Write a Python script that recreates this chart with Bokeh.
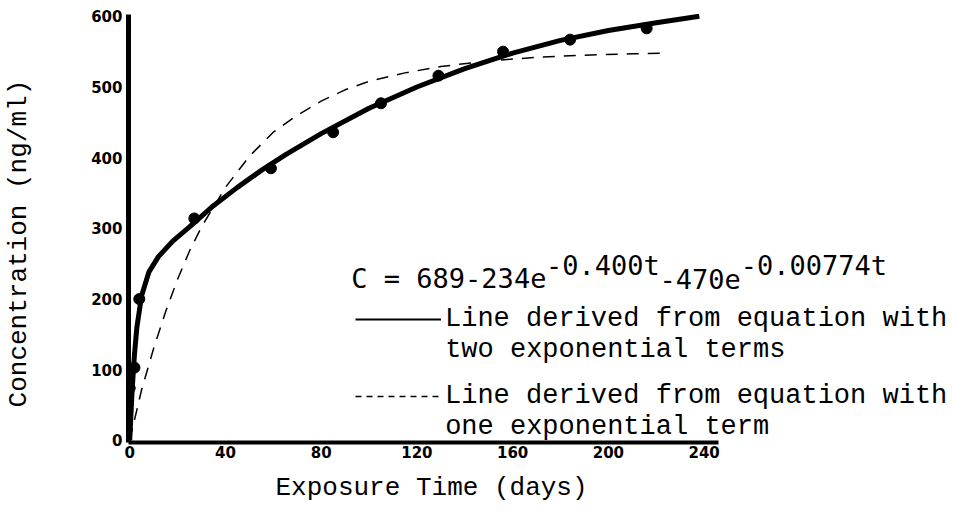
import math
from bokeh.plotting import figure
from bokeh.models import Range1d, FixedTicker, Label, Legend, LegendItem, LinearAxis, Title
from bokeh.embed import file_html
from bokeh.resources import INLINE

# ---- data ----
x_ticks = [0, 40, 80, 120, 160, 200, 240]
y_ticks = [0, 100, 200, 300, 400, 500, 600]

# line from equation with two exponential terms
solid_t = [0, 0.5, 1, 2, 3, 5, 8, 12, 18, 25, 35, 45, 55, 65, 80, 100, 120, 140, 160, 180, 200, 220, 238]
solid_v = [0, 35, 70, 122, 160, 205, 238, 260, 282, 302, 332, 358, 382, 404, 434, 470, 500, 526, 548, 566, 580, 591, 600]

# line from equation with one exponential term
dash_t = [0, 5, 10, 15, 20, 25, 30, 40, 50, 60, 70, 80, 90, 100, 115, 130, 150, 170, 190, 210, 225]
dash_v = [0, 72, 130, 182, 228, 268, 302, 358, 402, 436, 460, 480, 496, 508, 520, 529, 537, 542, 545, 547, 548]

# measured concentrations
pt_t = [0, 2, 4, 27, 59, 85, 105, 129, 156, 184, 216]
pt_v = [74, 103, 200, 314, 385, 436, 477, 516, 550, 567, 583]

eq_parts = ["C = 689-234e", "-0.400t", "-470e", "-0.00774t"]
legend_first = ["Line derived from equation with", "Line derived from equation with"]
legend_second = ["two exponential terms", "one exponential term"]
x_title = "Exposure Time (days)"
y_title = "Concentration (ng/ml)"

mono = "Liberation Mono"

# ---- figure ----
p = figure(width=953, height=515, output_backend="svg", toolbar_location=None,
           x_range=Range1d(-0.5, 344.2), y_range=Range1d(-3, 604),
           min_border_left=127, min_border_right=0, min_border_top=13, min_border_bottom=73)
p.outline_line_color = None
p.grid.visible = False
p.background_fill_color = "white"
p.border_fill_color = "white"
# off-screen range used only by the legend sample renderers
p.extra_y_ranges = {"legend_only": Range1d(100000, 100001)}

for ax, ticks, bounds, lw, so in ((p.xaxis, x_ticks, (-0.5, 246.2), 4, 3),
                                  (p.yaxis, y_ticks, (-3, 603), 5, 6)):
    ax.ticker = FixedTicker(ticks=ticks)
    ax.bounds = bounds
    ax.axis_line_width = lw
    ax.axis_line_color = "black"
    ax.major_tick_line_color = None
    ax.minor_tick_line_color = None
    ax.major_tick_out = 0
    ax.major_tick_in = 0
    ax.major_label_standoff = so
    ax.major_label_text_font = "DejaVu Sans"
    ax.major_label_text_font_style = "bold"
    ax.major_label_text_font_size = "15px"
    ax.major_label_text_color = "black"

# x title, left-aligned under the axis
p.add_layout(Title(text=x_title, align="left", offset=147, standoff=20, vertical_align="bottom",
                   text_font=mono, text_font_size="26px", text_font_style="normal",
                   text_color="black"), "below")

# separate label-only axis for the y title
ylab = LinearAxis(ticker=FixedTicker(ticks=[]), axis_line_color=None,
                  major_tick_line_color=None, minor_tick_line_color=None,
                  major_tick_out=0, major_tick_in=0, minor_tick_out=0,
                  axis_label=y_title + "  ", axis_label_text_font=mono, axis_label_text_font_size="26px",
                  axis_label_text_font_style="normal", axis_label_text_color="black",
                  axis_label_standoff=55)
p.add_layout(ylab, "left")

p.line(solid_t, solid_v, line_width=5, line_color="black")
p.line(dash_t, dash_v, line_width=1.5, line_color="black", line_dash="12 9")
p.scatter(pt_t, pt_v, size=11, color="black")

# legend sample renderers (drawn on an off-screen range, so only their legend glyphs show)
leg_solid = p.line(solid_t, solid_v, line_width=2, line_color="black", y_range_name="legend_only")
leg_dash = p.line(dash_t, dash_v, line_width=1.5, line_color="black", line_dash="6 5",
                  y_range_name="legend_only")

legend = Legend(items=[LegendItem(label=legend_first[0], renderers=[leg_solid]),
                       LegendItem(label=legend_first[1], renderers=[leg_dash])],
                location=(227, 31), orientation="vertical", glyph_width=86, glyph_height=30,
                label_height=30, label_standoff=4, spacing=47, padding=0, margin=0,
                border_line_color=None, background_fill_alpha=0,
                label_text_font=mono, label_text_font_size="27px",
                label_text_color="black")
p.add_layout(legend)

p.add_layout(Label(x=131.8, y=127.2, text=legend_second[0], text_font=mono, text_font_size="27px",
                   text_baseline="middle", text_color="black"))
p.add_layout(Label(x=131.8, y=18.3, text=legend_second[1], text_font=mono, text_font_size="27px",
                   text_baseline="middle", text_color="black"))

# equation with superscripts
eq_font = "DejaVu Sans Mono"
eq_x = [92.6, 173.9, 221.4, 255.3]
eq_y = [229.0, 247.0, 229.0, 247.0]
for txt, ex, ey in zip(eq_parts, eq_x, eq_y):
    p.add_layout(Label(x=ex, y=ey, text=txt, text_font=eq_font, text_font_size="27px",
                       text_baseline="alphabetic", text_color="black"))

open("out.html", "w").write(file_html(p, INLINE))
